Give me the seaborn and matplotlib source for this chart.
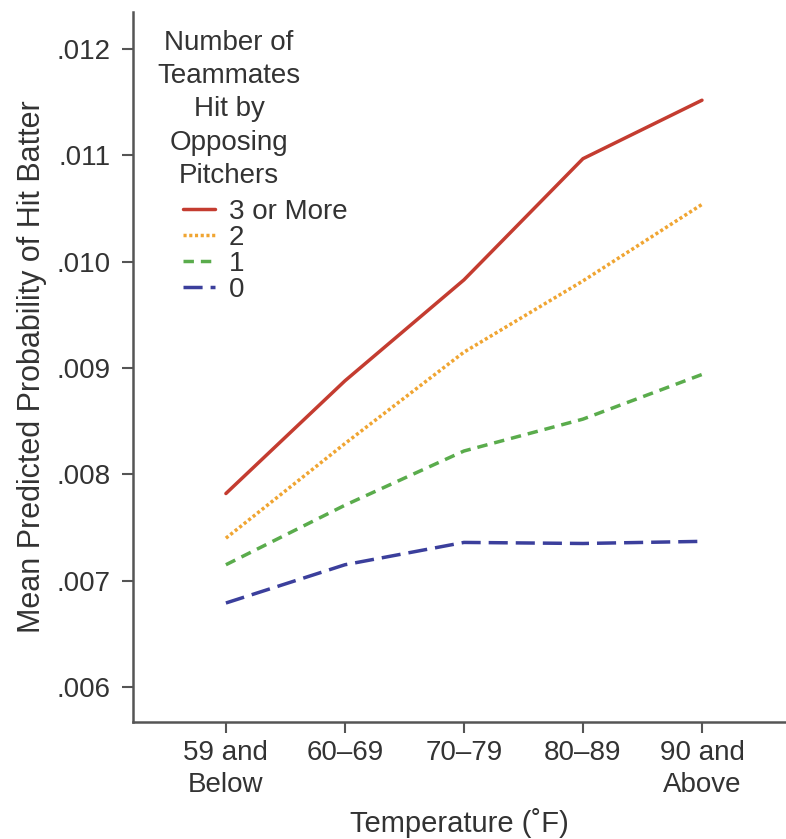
import pandas as pd
import seaborn as sns
import matplotlib.pyplot as plt
from matplotlib.ticker import FuncFormatter

# Data
temp_labels = ['59 and\nBelow', '60–69', '70–79', '80–89', '90 and\nAbove']
groups = ['3 or More', '2', '1', '0']
hit_3plus = [0.00782, 0.00888, 0.00983, 0.01097, 0.01152]
hit_2 = [0.00740, 0.00829, 0.00915, 0.00982, 0.01054]
hit_1 = [0.00715, 0.00771, 0.00822, 0.00852, 0.00894]
hit_0 = [0.00679, 0.00715, 0.00736, 0.00735, 0.00737]
y_ticks = [0.006, 0.007, 0.008, 0.009, 0.010, 0.011, 0.012]

series = {'3 or More': hit_3plus, '2': hit_2, '1': hit_1, '0': hit_0}
rows = []
for g in groups:
    for i, v in enumerate(series[g]):
        rows.append({'pos': i, 'prob': v, 'group': g})
df = pd.DataFrame(rows)

palette = {'3 or More': '#c43c30', '2': '#f0a532', '1': '#5aac4c', '0': '#3b3f9c'}
dashes = {'3 or More': '', '2': (0.9, 0.75), '1': (3, 2), '0': (5.5, 2.3)}

sns.set_theme(style="white")
plt.rcParams['font.family'] = ['Liberation Sans', 'DejaVu Sans']
txt = '#333333'

fig = plt.figure(figsize=(7.86, 8.39), dpi=100)
ax = fig.add_axes([0.169, 0.1395, 0.831, 0.8462])

sns.lineplot(data=df, x='pos', y='prob', hue='group', style='group',
             hue_order=groups, style_order=groups, palette=palette,
             dashes=dashes, linewidth=2.5, ax=ax, legend=False)

ax.set_xlim(-0.782, 4.706)
ax.set_ylim(0.005671, 0.01235)
ax.set_xticks(range(len(temp_labels)))
ax.set_xticklabels(temp_labels, fontsize=20, color=txt, linespacing=1.3)
ax.set_yticks(y_ticks)
ax.yaxis.set_major_formatter(FuncFormatter(lambda v, p: '.%03d' % int(round(v * 1000))))
ax.tick_params(axis='y', labelsize=20, labelcolor=txt, pad=8)
ax.tick_params(axis='x', pad=5)
ax.tick_params(axis='both', direction='out', length=8, width=1.5, color='#555555',
               bottom=True, left=True)

ax.set_xlabel('Temperature (˚F)', fontsize=21, color=txt, labelpad=7)
ax.set_ylabel('Mean Predicted Probability of Hit Batter', fontsize=22, color=txt, labelpad=7)

for side in ['top', 'right']:
    ax.spines[side].set_visible(False)
for side in ['left', 'bottom']:
    ax.spines[side].set_color('#555555')
    ax.spines[side].set_linewidth(1.8)

# Legend: title block and keys
fig.text(229 / 786, 1 - 30 / 839, 'Number of\nTeammates\nHit by\nOpposing\nPitchers',
         fontsize=20, color=txt, ha='center', va='top', linespacing=1.36)
handles = []
for g in groups:
    h = plt.Line2D([], [], color=palette[g], linewidth=2.5)
    if dashes[g]:
        h.set_dashes(dashes[g])
    handles.append(h)
leg = ax.legend(handles, groups, loc='upper left', bbox_to_anchor=(183 / 786, 1 - 199 / 839),
                bbox_transform=fig.transFigure, frameon=False, fontsize=20,
                handlelength=1.15, handletextpad=0.5, labelspacing=0.0, borderpad=0,
                borderaxespad=0)
for t in leg.get_texts():
    t.set_color(txt)

fig.savefig('out.png', dpi=100)
